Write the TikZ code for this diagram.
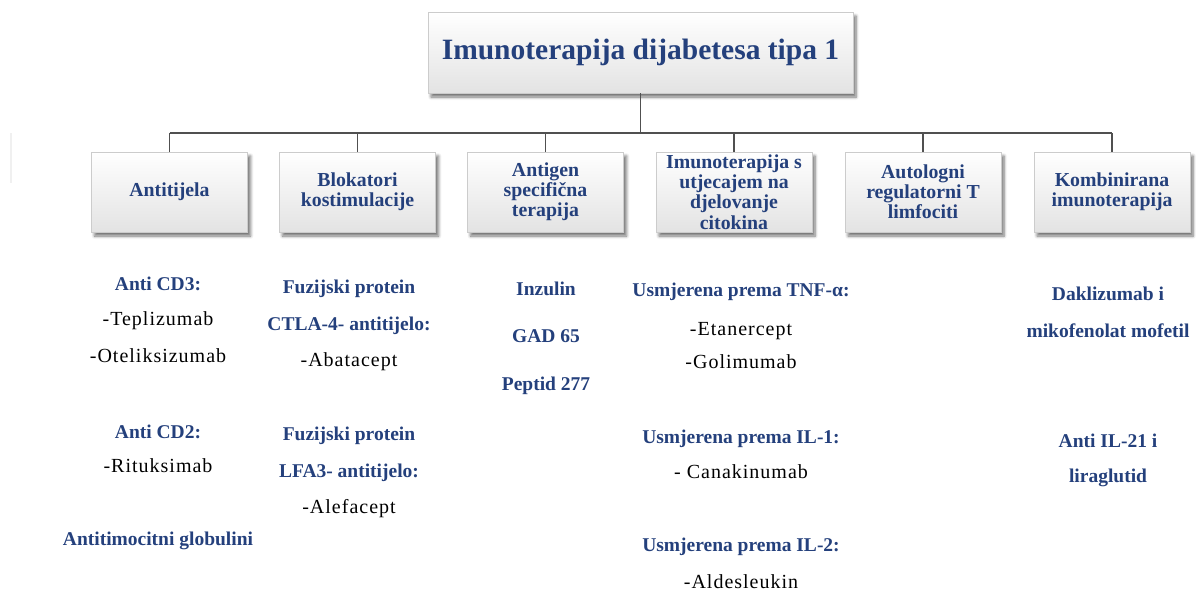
\documentclass[tikz,border=0pt]{standalone}
\usepackage{fontspec}
\setmainfont{Liberation Serif}
\newfontfamily\drugfont[LetterSpace=5]{Liberation Serif}
\usetikzlibrary{shadows.blur}
\definecolor{titleblue}{RGB}{36,64,124}
\definecolor{linegray}{RGB}{80,80,80}

\tikzset{
  boxbase/.style={draw=gray!40, top color=white, bottom color=gray!22,
    blur shadow={shadow xshift=3pt, shadow yshift=-4pt, shadow blur radius=3pt,
      shadow blur steps=6, shadow opacity=55},
    text=titleblue, align=center, inner sep=0pt},
  topbox/.style={boxbase, minimum width=425pt, minimum height=81pt,
    font=\fontsize{29.5}{32}\selectfont\bfseries},
  catbox/.style={boxbase, minimum width=156pt, minimum height=80pt,
    font=\fontsize{19.8}{20.2}\selectfont\bfseries},
  head/.style={anchor=base, text=titleblue, font=\fontsize{19.5}{20}\selectfont\bfseries},
  drug/.style={anchor=base, text=black, font=\drugfont\fontsize{20}{20}\selectfont},
  link/.style={draw=linegray, line width=1.5pt}
}

\begin{document}
\begin{tikzpicture}[x=1pt, y=-1pt]
    \useasboundingbox (0,0) rectangle (1196,590);

    % Glavni naslov i kategorije
    \node[topbox] (title) at (640.5,52.5) {Imunoterapija dijabetesa tipa 1};
    \node[catbox] (c1) at (169.5,192) {Antitijela};
    \node[catbox] (c2) at (357.5,192) {Blokatori\\kostimulacije};
    \node[catbox] (c3) at (545.5,192) {Antigen\\specifična\\terapija};
    \node[catbox] (c4) at (734,192) {Imunoterapija s\\utjecajem na\\djelovanje\\citokina};
    \node[catbox] (c5) at (923,192) {Autologni\\regulatorni T\\limfociti};
    \node[catbox] (c6) at (1112,192) {Kombinirana\\imunoterapija};

    % Spojnice
    \coordinate (bus) at (640.5,133);
    \draw[link] (title.south) -- (bus);
    \draw[link] (bus -| c1.north) -- (bus -| c6.north);
    \foreach \c in {c1,c2,c3,c4,c5,c6}
        \draw[link] (bus -| \c.north) -- (\c.north);

    % Antitijela
    \node[head] (cd3) at (158,290) {Anti CD3:};
    \node[drug] (tep) at (158,325) {-Teplizumab};
    \node[drug] (ote) at (158,362) {-Oteliksizumab};
    \node[head] (cd2) at (158,438) {Anti CD2:};
    \node[drug] (rit) at (158,472) {-Rituksimab};
    \node[head] (atg) at (158,545) {Antitimocitni globulini};

    % Blokatori kostimulacije
    \node[head] (fp1) at (349,293) {Fuzijski protein};
    \node[head] (ctla) at (349,330) {CTLA-4- antitijelo:};
    \node[drug] (aba) at (349,366) {-Abatacept};
    \node[head] (fp2) at (349,440) {Fuzijski protein};
    \node[head] (lfa) at (349,477) {LFA3- antitijelo:};
    \node[drug] (ale) at (349,513) {-Alefacept};

    % Antigen specificna terapija
    \node[head] (inz) at (546,295) {Inzulin};
    \node[head] (gad) at (546,342) {GAD 65};
    \node[head] (pep) at (546,390) {Peptid 277};

    % Citokini
    \node[head] (tnf) at (741,296) {Usmjerena prema TNF-α:};
    \node[drug] (eta) at (741,335) {-Etanercept};
    \node[drug] (gol) at (741,368) {-Golimumab};
    \node[head] (il1) at (741,443) {Usmjerena prema IL-1:};
    \node[drug] (can) at (741,478) {- Canakinumab};
    \node[head] (il2) at (741,551) {Usmjerena prema IL-2:};
    \node[drug] (ald) at (741,588) {-Aldesleukin};

    % Kombinirana imunoterapija
    \node[head] (dak) at (1108,300) {Daklizumab i};
    \node[head] (mik) at (1108,337) {mikofenolat mofetil};
    \node[head] (il21) at (1108,447) {Anti IL-21 i};
    \node[head] (lir) at (1108,482) {liraglutid};

    % blijeda crta lijevo
    \draw[gray!12, line width=2pt] (11,133) -- (11,183);
\end{tikzpicture}
\end{document}
